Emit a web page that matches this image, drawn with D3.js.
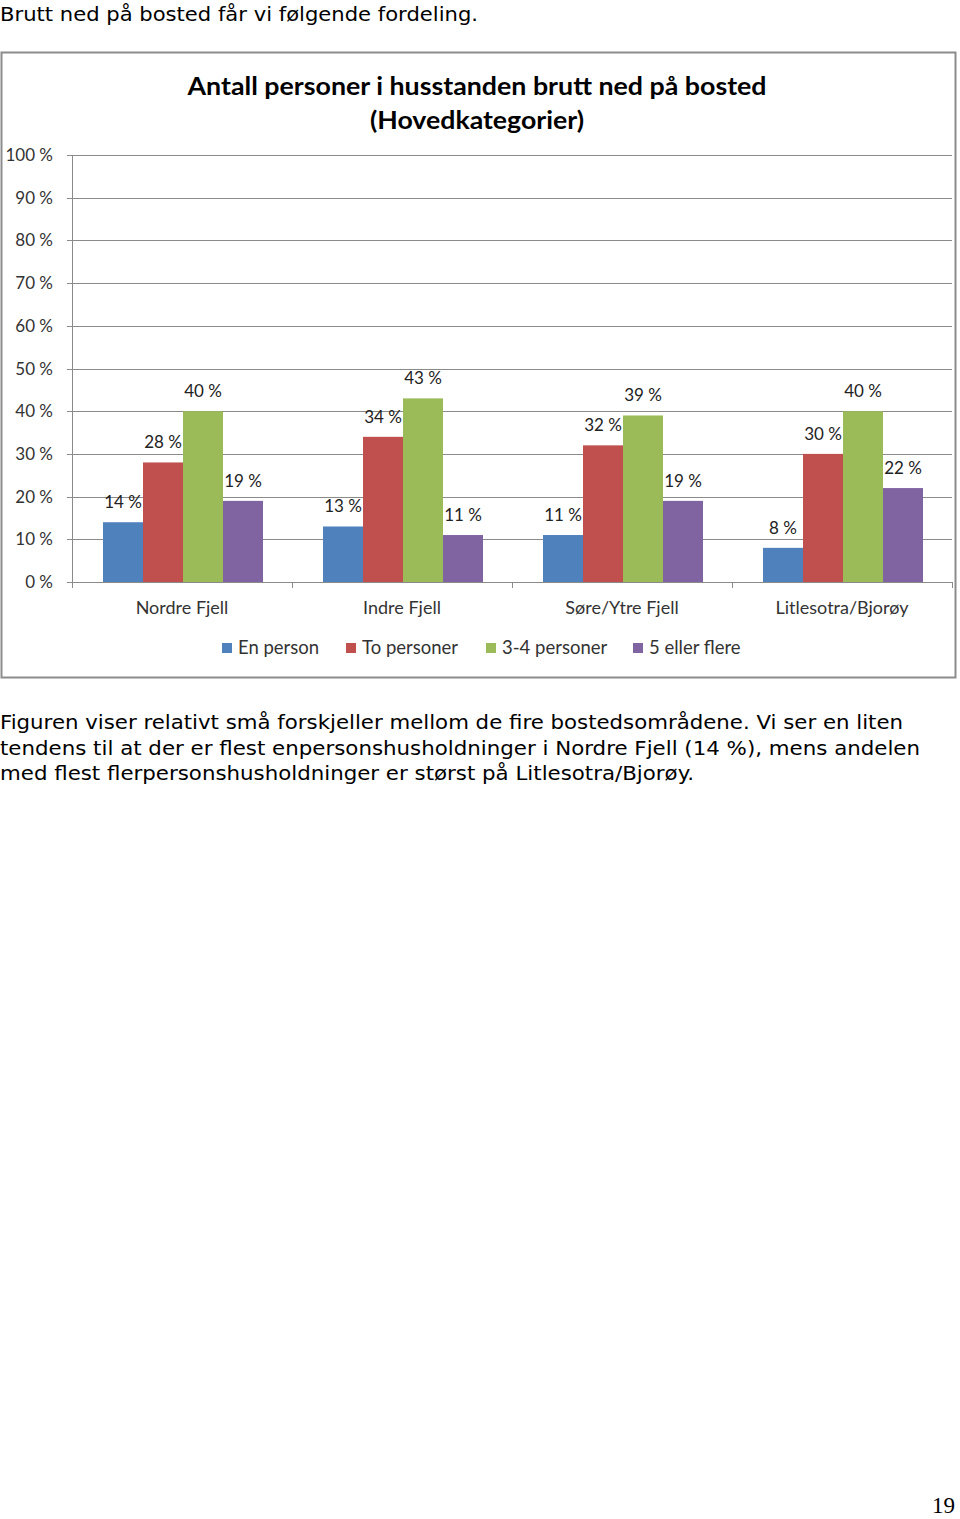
<!DOCTYPE html>
<html><head><meta charset="utf-8">
<script src="https://cdn.jsdelivr.net/npm/d3@7"></script>
<style>body{margin:0;background:#fff}svg{display:block}</style>
</head><body>
<svg id="c" width="960" height="1519"></svg>
<script>
const categories = ["Nordre Fjell", "Indre Fjell", "Søre/Ytre Fjell", "Litlesotra/Bjorøy"];
const seriesNames = ["En person", "To personer", "3-4 personer", "5 eller flere"];
const enPerson = [14, 13, 11, 8];
const toPersoner = [28, 34, 32, 30];
const treFire = [40, 43, 39, 40];
const femEllerFlere = [19, 11, 19, 22];
const yTicks = [0, 10, 20, 30, 40, 50, 60, 70, 80, 90, 100];
const colors = ["#4F81BD", "#C0504D", "#9BBB59", "#8064A2"];
const seriesValues = [enPerson, toPersoner, treFire, femEllerFlere];

const svg = d3.select("#c");
const chartFont = "Lato, 'Open Sans', sans-serif";
const bodyFont = "'DejaVu Sans', Verdana, sans-serif";

// Intro text
svg.append("text").attr("x", 0).attr("y", 21).attr("font-family", bodyFont)
  .attr("font-size", 20).attr("fill", "#000").attr("textLength", 478).attr("lengthAdjust", "spacingAndGlyphs")
  .text("Brutt ned på bosted får vi følgende fordeling.");

// Chart frame
svg.append("rect").attr("x", 1.5).attr("y", 52.5).attr("width", 954).attr("height", 625)
  .attr("fill", "#fff").attr("stroke", "#8c8c8c").attr("stroke-width", 2);

// Title
const title = svg.append("g").attr("font-family", chartFont).attr("font-weight", "bold").attr("font-size", 24).attr("fill", "#000").attr("text-anchor", "middle");
title.append("text").attr("x", 477).attr("y", 95).attr("textLength", 579).attr("lengthAdjust", "spacingAndGlyphs").text("Antall personer i husstanden brutt ned på bosted");
title.append("text").attr("x", 477).attr("y", 129).attr("textLength", 214).attr("lengthAdjust", "spacingAndGlyphs").text("(Hovedkategorier)");

// Scales
const x0 = d3.scaleBand().domain(categories).range([72, 952]).paddingInner(0).paddingOuter(0);
const x1 = d3.scaleBand().domain(seriesNames).range([31, 191]);
const y = d3.scaleLinear().domain([0, 100]).range([582, 155]);

// Gridlines
svg.append("g").selectAll("line").data(yTicks).join("line")
  .attr("x1", 67).attr("x2", 952).attr("y1", d => Math.round(y(d)) + 0.5).attr("y2", d => Math.round(y(d)) + 0.5)
  .attr("stroke", "#8a8a8a").attr("stroke-width", 1);

// Y axis line
svg.append("line").attr("x1", 72.5).attr("x2", 72.5).attr("y1", y(100)).attr("y2", y(0) + 0.5).attr("stroke", "#8a8a8a");

// Y tick labels
svg.append("g").selectAll("text").data(yTicks).join("text")
  .attr("x", 53).attr("y", d => y(d) + 6).attr("text-anchor", "end")
  .attr("font-family", chartFont).attr("font-size", 17).attr("fill", "#333")
  .text(d => d + " %");

// X category ticks
const bounds = categories.map(c => x0(c)).concat([952]);
svg.append("g").selectAll("line").data(bounds).join("line")
  .attr("x1", d => Math.round(d) + 0.5).attr("x2", d => Math.round(d) + 0.5)
  .attr("y1", y(0)).attr("y2", y(0) + 6).attr("stroke", "#8a8a8a");

// Bars
const groups = svg.append("g").selectAll("g").data(categories).join("g")
  .attr("transform", c => `translate(${x0(c)},0)`);
groups.selectAll("rect").data((c, i) => seriesNames.map((s, j) => ({s, v: seriesValues[j][i], j})))
  .join("rect")
  .attr("x", d => x1(d.s)).attr("width", x1.bandwidth())
  .attr("y", d => y(d.v)).attr("height", d => y(0) - y(d.v))
  .attr("fill", d => colors[d.j]);
groups.selectAll("text").data((c, i) => seriesNames.map((s, j) => ({s, v: seriesValues[j][i], j})))
  .join("text")
  .attr("x", d => x1(d.s) + x1.bandwidth() / 2).attr("y", d => y(d.v) - 14)
  .attr("text-anchor", "middle").attr("font-family", chartFont).attr("font-size", 17).attr("fill", "#222")
  .text(d => d.v + " %");

// Category labels
svg.append("g").selectAll("text").data(categories).join("text")
  .attr("x", c => x0(c) + x0.bandwidth() / 2).attr("y", 614).attr("text-anchor", "middle")
  .attr("font-family", chartFont).attr("font-size", 18).attr("fill", "#333").text(c => c);

// Legend
const legendX = [222, 346, 486, 633];
const lg = svg.append("g").selectAll("g").data(seriesNames).join("g")
  .attr("transform", (d, i) => `translate(${legendX[i]},643)`);
lg.append("rect").attr("width", 10).attr("height", 10).attr("fill", (d, i) => colors[i]);
lg.append("text").attr("x", 16).attr("y", 11).attr("font-family", chartFont).attr("font-size", 18.5).attr("fill", "#333").text(d => d);

// Paragraph
const para = [
  ["Figuren viser relativt små forskjeller mellom de fire bostedsområdene. Vi ser en liten", 903],
  ["tendens til at der er flest enpersonshusholdninger i Nordre Fjell (14 %), mens andelen", 920],
  ["med flest flerpersonshusholdninger er størst på Litlesotra/Bjorøy.", 694]
];
svg.append("g").selectAll("text").data(para).join("text")
  .attr("x", 0).attr("y", (d, i) => 729 + i * 25.5)
  .attr("font-family", bodyFont).attr("font-size", 20).attr("fill", "#000")
  .attr("textLength", d => d[1]).attr("lengthAdjust", "spacingAndGlyphs")
  .text(d => d[0]);

// Page number
svg.append("text").attr("x", 955).attr("y", 1513).attr("text-anchor", "end")
  .attr("font-family", "'Liberation Serif', 'Times New Roman', serif").attr("font-size", 23).attr("fill", "#000").text("19");
</script>
</body></html>
